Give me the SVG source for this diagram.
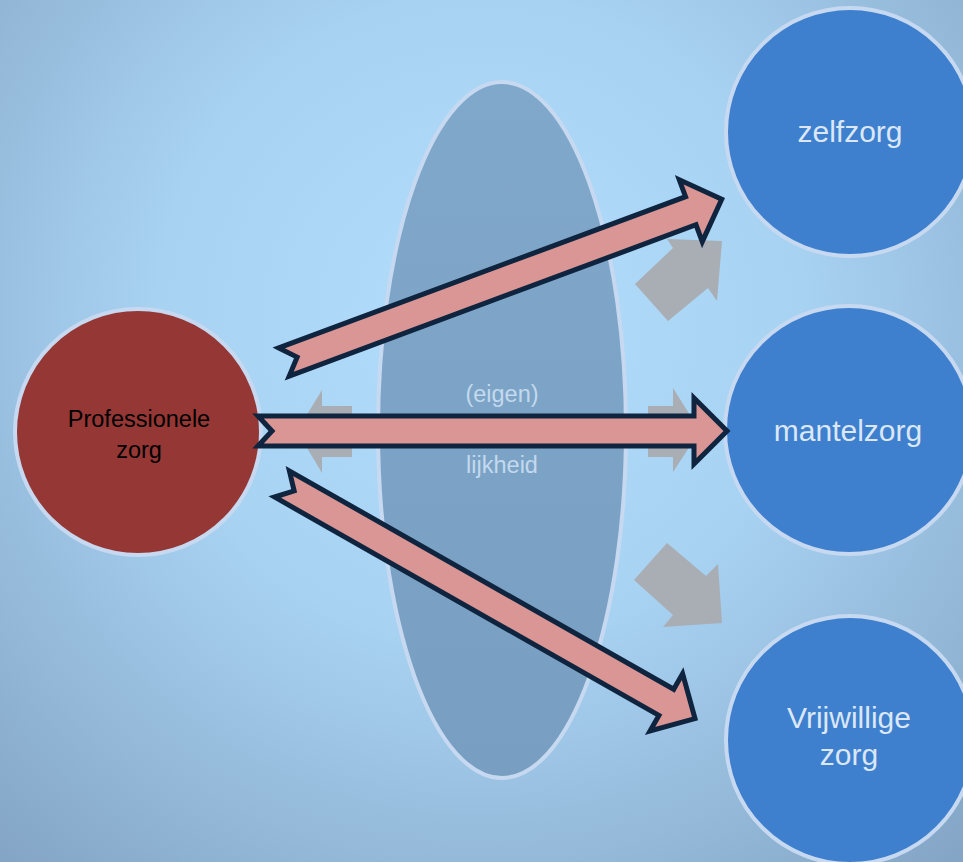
<svg xmlns="http://www.w3.org/2000/svg" width="963" height="862" viewBox="0 0 963 862">
  <defs>
    <radialGradient id="bg" cx="480" cy="320" r="720" gradientUnits="userSpaceOnUse">
      <stop offset="0" stop-color="#b2ddfb"/>
      <stop offset="0.45" stop-color="#a8d2f2"/>
      <stop offset="1" stop-color="#84a5c5"/>
    </radialGradient>
    <linearGradient id="ell" x1="0" y1="0" x2="0" y2="1">
      <stop offset="0" stop-color="#80a8ca"/>
      <stop offset="1" stop-color="#789fc1"/>
    </linearGradient>
    <style>
      .gray { fill: #a9adb4; }
      .red { fill: #d99694; stroke: #0f243e; stroke-width: 5; stroke-linejoin: miter; }
      .blue { fill: #3e7fce; stroke: #c6d9f1; stroke-width: 4; }
      .prof { fill: #953735; stroke: #c6d9f1; stroke-width: 4; }
      .big { font-family: "Liberation Sans", Arial, sans-serif; font-size: 30px; fill: #dbe7f5; text-anchor: middle; }
      .small { font-family: "Liberation Sans", Arial, sans-serif; font-size: 23.5px; text-anchor: middle; }
    </style>
  </defs>
  <rect x="0" y="0" width="963" height="862" fill="url(#bg)"/>
  <g id="lens">
    <ellipse cx="502" cy="430" rx="124" ry="348" fill="url(#ell)" stroke="#c6d9f1" stroke-width="4"/>
    <text class="small" x="502" y="402" fill="#c3d9ee">(eigen)</text>
    <text class="small" x="502" y="473" fill="#c3d9ee">lijkheid</text>
  </g>
  <g id="gray-arrows">
    <polygon class="gray" points="635,284 673,248 667,239 722,241 717,301 708,288 668,321"/>
    <polygon class="gray" points="667,543 706,576 718,564 722,623 663,627 673,615 634,580"/>
    <polygon class="gray" points="352,406 322,406 322,390 297,431 322,473 322,457 352,457"/>
    <polygon class="gray" points="648,406 673,406 673,388 700,431 673,472 673,457 648,457"/>
  </g>
  <g id="professionele">
    <circle class="prof" cx="138" cy="432" r="123"/>
    <text class="small" x="139" y="427" fill="#000">Professionele</text>
    <text class="small" x="139" y="458" fill="#000">zorg</text>
  </g>
  <g id="zelfzorg">
    <circle class="blue" cx="850" cy="132" r="124"/>
    <text class="big" x="850" y="142">zelfzorg</text>
  </g>
  <g id="mantelzorg">
    <circle class="blue" cx="849" cy="430" r="124"/>
    <text class="big" x="848" y="441">mantelzorg</text>
  </g>
  <g id="vrijwillige">
    <circle class="blue" cx="850" cy="740" r="124"/>
    <text class="big" x="849" y="728">Vrijwillige</text>
    <text class="big" x="849" y="765">zorg</text>
  </g>
  <g id="connectors">
    <polygon class="red" transform="translate(284,362) rotate(-20.4)" points="0,-15 14,0 0,15 434,15 434,33 467,0 434,-33 434,-15"/>
    <polygon class="red" transform="translate(258,431)" points="0,-15 14,0 0,15 436,15 436,33 469,0 436,-33 436,-15"/>
    <polygon class="red" transform="translate(282,484) rotate(29.6)" points="0,-15 14,0 0,15 442,15 442,33 475,0 442,-33 442,-15"/>
  </g>
</svg>
